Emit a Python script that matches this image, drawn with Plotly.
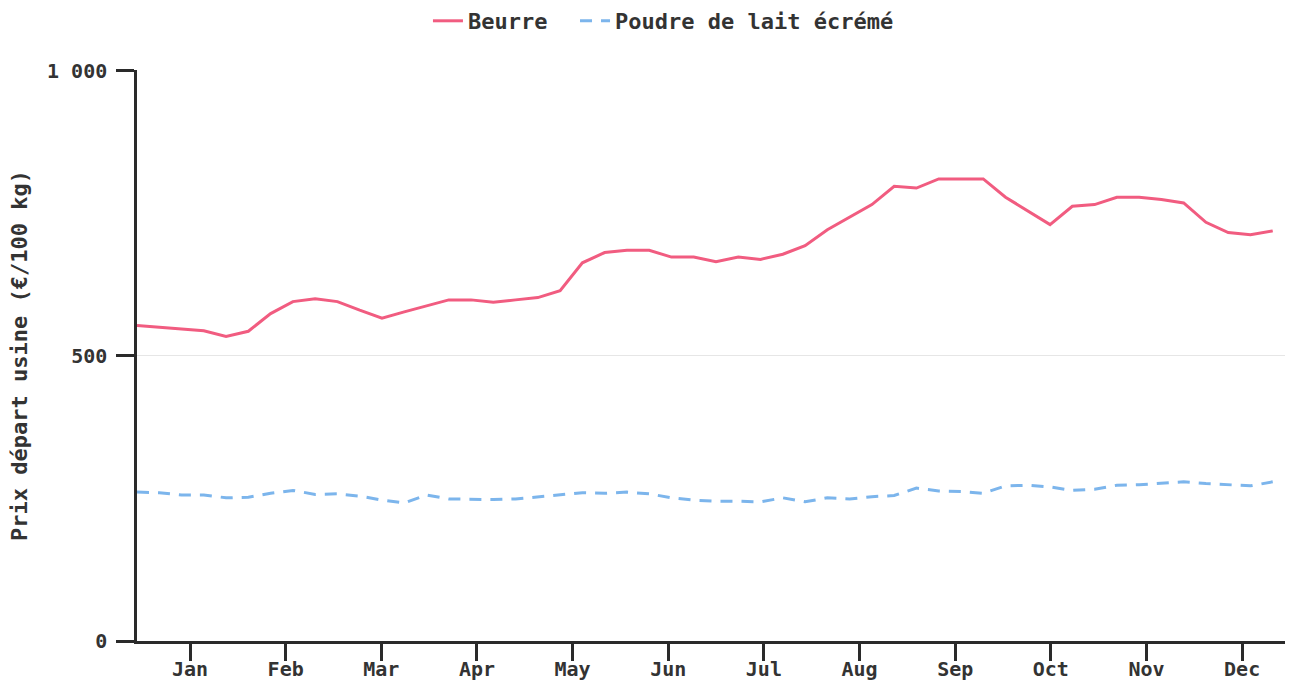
import plotly.graph_objects as go

weeks = list(range(52))
month_labels = ["Jan", "Feb", "Mar", "Apr", "May", "Jun", "Jul", "Aug", "Sep", "Oct", "Nov", "Dec"]

beurre = [553, 550, 547, 544, 534, 543, 574, 595, 600, 595, 580, 566, 577, 588, 598, 598,
          594, 598, 602, 614, 663, 681, 685, 685, 673, 673, 665, 673, 669, 678, 693, 721,
          743, 765, 797, 794, 810, 810, 810, 778, 754, 730, 762, 765, 778, 778, 774, 768,
          734, 716, 712, 719]

poudre = [261, 260, 256, 256, 251, 252, 259, 264, 257, 258, 254, 247, 242, 256, 249, 248,
          248, 249, 253, 256, 260, 259, 261, 258, 251, 247, 245, 245, 244, 251, 244, 251,
          249, 253, 255, 268, 263, 262, 259, 272, 273, 270, 264, 266, 273, 274, 277, 279,
          276, 274, 272, 279]

y_ticks = [0, 500, 1000]
y_tick_text = ["0", "500", "1 000"]

font_family = "DejaVu Sans Mono"
text_color = "#333333"
axis_color = "#2a2a2a"
legend_font = dict(size=22, family=font_family, weight="bold", color=text_color)

fig = go.Figure()
fig.add_trace(go.Scatter(x=weeks, y=beurre, mode="lines", name="Beurre",
                         line=dict(color="#f15c80", width=3), legend="legend"))
fig.add_trace(go.Scatter(x=weeks, y=poudre, mode="lines", name="Poudre de lait écrémé",
                         line=dict(color="#7cb5ec", width=3, dash="12px,9px"), legend="legend2"))

tickvals = [2.38 + 4.295 * k for k in range(len(month_labels))]

fig.update_layout(
    width=1298, height=681,
    margin=dict(l=137, r=13, t=70, b=40),
    paper_bgcolor="white", plot_bgcolor="white",
    font=dict(family=font_family, color=text_color, size=20, weight="bold"),
    showlegend=True,
    legend=dict(orientation="h", x=0.3297, xanchor="left", xref="container",
                y=1.0, yanchor="top", yref="container", font=legend_font),
    legend2=dict(orientation="h", x=0.4430, xanchor="left", xref="container",
                 y=1.0, yanchor="top", yref="container", font=legend_font),
    xaxis=dict(range=[0, 51.55], tickmode="array", tickvals=tickvals, ticktext=month_labels,
               automargin=False,
               showgrid=False, zeroline=False, showline=True, linecolor=axis_color, linewidth=2.5,
               ticks="outside", ticklen=17, tickwidth=2.5, tickcolor=axis_color,
               ticklabelstandoff=-9,
               tickfont=dict(size=20, family=font_family, weight="bold", color=text_color)),
    yaxis=dict(range=[0, 1001], tickmode="array", tickvals=y_ticks, ticktext=y_tick_text,
               automargin=False,
               showgrid=True, gridcolor="#e6e6e6", gridwidth=1, zeroline=False,
               showline=True, linecolor=axis_color, linewidth=2.5,
               ticks="outside", ticklen=18, tickwidth=2.5, tickcolor=axis_color,
               ticklabelstandoff=5,
               tickfont=dict(size=20, family=font_family, weight="bold", color=text_color),
               title=dict(text="Prix départ usine (€/100 kg)", standoff=14,
                          font=dict(size=22, family=font_family, weight="bold", color=text_color))),
)

fig.write_html("out.html", config={"displayModeBar": False},
               post_script="document.body.style.margin='0px';")
